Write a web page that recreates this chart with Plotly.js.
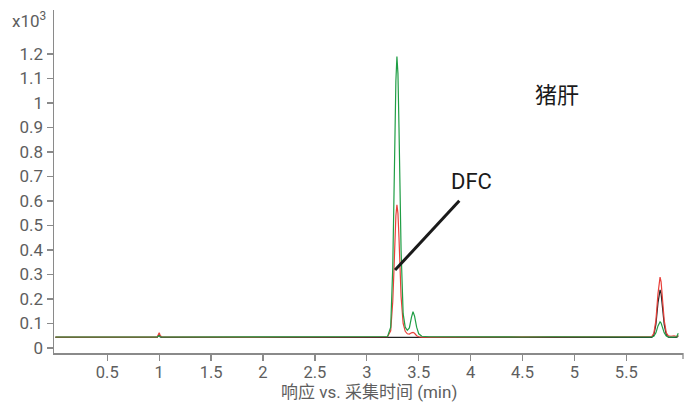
<!DOCTYPE html>
<html>
<head>
<meta charset="utf-8">
<script src="https://cdn.plot.ly/plotly-3.0.1.min.js"></script>
<style>html,body{margin:0;padding:0;background:#fff;}#chart{width:688px;height:402px;}</style>
</head>
<body>
<div id="chart"></div>
<script>
// Acquisition time (min)
const time = [
  0, 0.3, 0.6, 0.9, 0.98, 1.0, 1.01, 1.03, 1.3, 1.6, 1.9, 2.2, 2.5,
  2.7, 2.75, 2.8, 3.0, 3.15, 3.2,
  3.23, 3.25, 3.26, 3.27, 3.28, 3.29, 3.30, 3.31, 3.32, 3.33, 3.35, 3.37, 3.39, 3.41, 3.43, 3.445, 3.46, 3.48, 3.5, 3.53, 3.6,
  3.9, 4.2, 4.5, 4.8, 5.1, 5.4, 5.6,
  5.7, 5.745, 5.765, 5.785, 5.805, 5.815, 5.825, 5.835, 5.845, 5.865, 5.885, 5.905, 5.93, 5.96, 5.985, 6.0
];
// Response (x10^3)
const greenSeries = [
  0.045, 0.045, 0.045, 0.045, 0.045, 0.05, 0.046, 0.045, 0.045, 0.045, 0.045, 0.045, 0.045,
  0.046, 0.048, 0.046, 0.045, 0.046, 0.047,
  0.085, 0.33, 0.58, 0.86, 1.09, 1.19, 1.12, 0.90, 0.63, 0.40, 0.14, 0.085, 0.072, 0.082, 0.125, 0.148, 0.13, 0.085, 0.058, 0.048, 0.046,
  0.045, 0.045, 0.045, 0.046, 0.045, 0.045, 0.046,
  0.046, 0.045, 0.048, 0.062, 0.09, 0.102, 0.107, 0.102, 0.09, 0.062, 0.049, 0.045, 0.044, 0.044, 0.045, 0.06
];
const redSeries = [
  0.044, 0.044, 0.044, 0.044, 0.044, 0.062, 0.05, 0.045, 0.044, 0.045, 0.044, 0.045, 0.045,
  0.047, 0.048, 0.047, 0.045, 0.045, 0.046,
  0.07, 0.19, 0.30, 0.43, 0.54, 0.584, 0.55, 0.45, 0.32, 0.21, 0.10, 0.068, 0.058, 0.057, 0.062, 0.064, 0.06, 0.05, 0.046, 0.044, 0.044,
  0.044, 0.044, 0.045, 0.044, 0.044, 0.045, 0.045,
  0.046, 0.047, 0.06, 0.113, 0.222, 0.27, 0.289, 0.27, 0.222, 0.113, 0.062, 0.05, 0.048, 0.05, 0.047, 0.052
];
const blackSeries = [
  0.043, 0.043, 0.043, 0.043, 0.043, 0.055, 0.045, 0.043, 0.043, 0.043, 0.043, 0.043, 0.043,
  0.043, 0.044, 0.043, 0.043, 0.043, 0.042,
  0.042, 0.041, 0.041, 0.041, 0.041, 0.041, 0.041, 0.041, 0.041, 0.041, 0.041, 0.041, 0.041, 0.041, 0.041, 0.041, 0.041, 0.041, 0.042, 0.042, 0.043,
  0.043, 0.043, 0.043, 0.043, 0.043, 0.043, 0.043,
  0.042, 0.043, 0.053, 0.096, 0.184, 0.222, 0.237, 0.222, 0.184, 0.096, 0.053, 0.044, 0.043, 0.043, 0.043, 0.05
];
const xTickVals = [0.5, 1, 1.5, 2, 2.5, 3, 3.5, 4, 4.5, 5, 5.5];
const xTickText = ["0.5", "1", "1.5", "2", "2.5", "3", "3.5", "4", "4.5", "5", "5.5"];
const yTickVals = [0, 0.1, 0.2, 0.3, 0.4, 0.5, 0.6, 0.7, 0.8, 0.9, 1, 1.1, 1.2];
const yTickText = ["0", "0.1", "0.2", "0.3", "0.4", "0.5", "0.6", "0.7", "0.8", "0.9", "1", "1.1", "1.2"];
const xTitle = "响应 vs. 采集时间 (min)";
const sampleLabel = "猪肝";
const peakLabel = "DFC";
const peakPoint = [3.272, 0.318];
const labelPoint = [3.891, 0.601];

const FONT = "Roboto, 'Noto Sans CJK SC', sans-serif";
const GRAY = "#5e5e5e";
const AX = "#8a8a8a";

const traces = [
  {x: time, y: blackSeries, type: "scatter", mode: "lines", line: {color: "#222222", width: 1.2}, hoverinfo: "skip"},
  {x: time, y: redSeries, type: "scatter", mode: "lines", line: {color: "#e8403a", width: 1.2}, hoverinfo: "skip"},
  {x: time, y: greenSeries, type: "scatter", mode: "lines", line: {color: "#1f9e45", width: 1.2}, hoverinfo: "skip"}
];

const layout = {
  width: 688, height: 402,
  margin: {l: 54, r: 5, t: 10, b: 49},
  paper_bgcolor: "#ffffff", plot_bgcolor: "#ffffff",
  showlegend: false,
  font: {family: FONT, color: GRAY},
  xaxis: {
    range: [-0.0135, 6.046], tickmode: "array", tickvals: xTickVals, ticktext: xTickText,
    ticks: "outside", ticklen: 6, tickwidth: 1.3, tickcolor: AX, ticklabelstandoff: -2,
    showline: true, linecolor: AX, linewidth: 1.5, showgrid: false, zeroline: false,
    tickfont: {family: FONT, size: 16.5, color: GRAY}, automargin: false
  },
  yaxis: {
    range: [-0.0204, 1.3796], tickmode: "array", tickvals: yTickVals, ticktext: yTickText,
    ticks: "outside", ticklen: 6, tickwidth: 1.3, tickcolor: AX,
    showline: true, linecolor: AX, linewidth: 1.5, showgrid: false, zeroline: false,
    tickfont: {family: FONT, size: 17, color: GRAY}, automargin: false
  },
  shapes: [
    {type: "line", xref: "x", yref: "y", x0: peakPoint[0], y0: peakPoint[1], x1: labelPoint[0], y1: labelPoint[1],
     line: {color: "#1a1a1a", width: 3}},
    {type: "line", xref: "paper", yref: "paper", x0: 1, x1: 1, y0: 0, y1: -0.0175, line: {color: AX, width: 1.3}}
  ],
  annotations: [
    {text: "x10<sup>3</sup>", xref: "paper", yref: "paper", x: -0.0397, y: 0.971, xanchor: "center", yanchor: "middle",
     showarrow: false, font: {family: FONT, size: 17, color: GRAY}},
    {text: xTitle, xref: "paper", yref: "paper", x: 0.5, y: -0.1145, xanchor: "center", yanchor: "middle",
     showarrow: false, borderpad: 0, font: {family: FONT, size: 17, color: GRAY}},
    {text: sampleLabel, xref: "paper", yref: "paper", x: 0.7997, y: 0.752, xanchor: "center", yanchor: "middle",
     showarrow: false, font: {family: FONT, size: 22, color: "#1a1a1a"}},
    {text: peakLabel, xref: "paper", yref: "paper", x: 0.663, y: 0.501, xanchor: "center", yanchor: "middle",
     showarrow: false, font: {family: FONT, size: 22, color: "#1a1a1a"}}
  ]
};

Plotly.newPlot("chart", traces, layout, {staticPlot: true, displayModeBar: false});
</script>
</body>
</html>
